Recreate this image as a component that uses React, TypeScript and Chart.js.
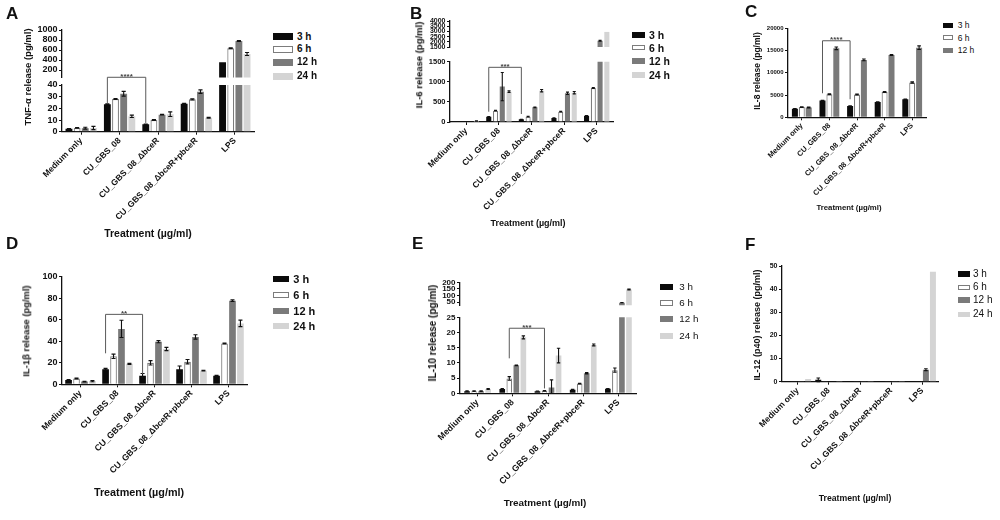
import React, { useEffect, useRef } from 'react';
import { Chart, registerables } from 'chart.js';

Chart.register(...registerables);

const FONT = '"Liberation Sans", Arial, Helvetica, sans-serif';
Chart.defaults.font.family = FONT;

// ---- data -------------------------------------------------------------

const categories = ['Medium only', 'CU_GBS_08', 'CU_GBS_08_ΔbceR', 'CU_GBS_08_ΔbceR+pbceR', 'LPS'];
const timePoints = ['3 h', '6 h', '12 h', '24 h'];

// A: TNF-α, rows = 3 h, 6 h, 12 h, 24 h
const tnfMeans = [
  [2.5, 23.5, 6.3, 24, 354],
  [3.2, 28, 10, 27.7, 634],
  [3, 32.5, 14.6, 34.3, 780],
  [3.2, 13.2, 15, 12, 520],
];
const tnfSem = [
  [0.2, 0.4, 0.2, 0.3, 0],
  [0.3, 0.3, 0.4, 0.5, 8],
  [0.8, 2, 0.2, 1.5, 10],
  [1.4, 1, 2, 0.4, 30],
];
const tnfTicksHigh = [200, 400, 600, 800, 1000];
const tnfTicksLow = [0, 10, 20, 30, 40];

// B: IL-6
const il6Means = [
  [15, 133, 66, 100, 158],
  [12, 282, 133, 257, 846],
  [10, 880, 365, 713, 2100],
  [22, 755, 780, 730, 2950],
];
const il6Sem = [
  [0, 5, 3, 4, 5],
  [0, 10, 8, 10, 10],
  [0, 350, 10, 30, 40],
  [5, 20, 30, 30, 0],
];
const il6TicksHigh = [1500, 2000, 2500, 3000, 3500, 4000];
const il6TicksLow = [0, 500, 1000, 1500];

// C: IL-8 (no 24 h)
const il8Means = [
  [1900, 3750, 2550, 3450, 4050],
  [2300, 5170, 5100, 5700, 7800],
  [2200, 15500, 12900, 14000, 15650],
];
const il8Sem = [
  [50, 50, 50, 50, 50],
  [80, 100, 100, 100, 150],
  [100, 300, 200, 100, 400],
];
const il8Ticks = [0, 5000, 10000, 15000, 20000];

// D: IL-1β
const il1bMeans = [
  [4, 14, 8, 14, 8],
  [5.3, 26, 20, 21, 38],
  [2.5, 51.5, 39.6, 44, 77.7],
  [3, 19, 32.8, 12.7, 56.6],
];
const il1bSem = [
  [0.3, 0.8, 2, 3, 0.3],
  [0.4, 2, 2, 2, 0.4],
  [0.4, 8, 1, 2, 0.8],
  [0.6, 0.5, 1.5, 0.4, 3],
];
const il1bTicks = [0, 20, 40, 60, 80, 100];

// E: IL-10
const il10Means = [
  [0.7, 1.4, 0.7, 1.2, 1.5],
  [0.7, 4.9, 0.8, 3.2, 7.6],
  [0.7, 9.2, 1.9, 6.6, 45],
  [1.4, 18.4, 12.4, 15.9, 145],
];
const il10Sem = [
  [0.1, 0.15, 0.05, 0.1, 0.1],
  [0.1, 0.6, 0.1, 0.1, 0.7],
  [0.1, 0.1, 2.5, 0.2, 1],
  [0.15, 0.5, 2.4, 0.3, 3],
];
const il10TicksHigh = [50, 100, 150, 200];
const il10TicksLow = [0, 5, 10, 15, 20, 25];

// F: IL-12 (p40)
const il12Means = [
  [0.05, 0.8, 0.1, 0.1, 0.3],
  [0.1, 0.3, 0.1, 0.1, 0.2],
  [0.05, 0.2, 0.1, 0.1, 5.2],
  [1.2, 0.05, 0.05, 0.05, 47.5],
];
const il12Sem = [
  [0, 0.8, 0, 0, 0],
  [0, 0, 0, 0, 0],
  [0, 0, 0, 0, 0.4],
  [0, 0, 0, 0, 0],
];
const il12Ticks = [0, 10, 20, 30, 40, 50];

// ---- styles -----------------------------------------------------------

const fills = ['#0b0b0b', '#ffffff', '#7a7a7a', '#d4d4d4'];
const borders = ['#0b0b0b', '#7c7c7c', '#7a7a7a', '#d4d4d4'];
const Y_W = 34;
const X_H = 100;
const LEFT_ROOM = 66;

type Plot = { l: number; t: number; r: number; b: number };
type Bracket = { series: number; from: number; to: number; top: number; leftEnd: number; rightEnd: number; text: string };

const errorBars = {
  id: 'errorBars',
  afterDatasetsDraw(chart: any) {
    const { ctx } = chart;
    const y = chart.scales.y;
    ctx.save();
    ctx.strokeStyle = '#111';
    ctx.lineWidth = 1.1;
    chart.data.datasets.forEach((ds: any, i: number) => {
      const meta = chart.getDatasetMeta(i);
      meta.data.forEach((bar: any, j: number) => {
        const v = ds.data[j];
        const e = ds.errors ? ds.errors[j] : 0;
        if (!e || v > y.max || v < y.min) return;
        const top = y.getPixelForValue(Math.min(v + e, y.max));
        const bottom = y.getPixelForValue(Math.max(v - e, y.min));
        const cap = Math.max(bar.width * 0.3, 1.5);
        ctx.beginPath();
        ctx.moveTo(bar.x, top);
        ctx.lineTo(bar.x, bottom);
        ctx.moveTo(bar.x - cap, top);
        ctx.lineTo(bar.x + cap, top);
        ctx.moveTo(bar.x - cap, bottom);
        ctx.lineTo(bar.x + cap, bottom);
        ctx.stroke();
      });
    });
    ctx.restore();
  },
};

const bracketPlugin = {
  id: 'bracket',
  afterDatasetsDraw(chart: any, _args: any, opts: any) {
    if (!opts || !opts.text) return;
    const { ctx } = chart;
    const y = chart.scales.y;
    const a = chart.getDatasetMeta(opts.series).data[opts.from];
    const b = chart.getDatasetMeta(opts.series).data[opts.to];
    const yt = y.getPixelForValue(opts.top);
    ctx.save();
    ctx.strokeStyle = '#5a5a5a';
    ctx.lineWidth = 1;
    ctx.beginPath();
    ctx.moveTo(a.x, y.getPixelForValue(opts.leftEnd));
    ctx.lineTo(a.x, yt);
    ctx.lineTo(b.x, yt);
    ctx.lineTo(b.x, y.getPixelForValue(opts.rightEnd));
    ctx.stroke();
    ctx.fillStyle = '#444';
    ctx.font = `bold 8px ${FONT}`;
    ctx.textAlign = 'center';
    ctx.textBaseline = 'alphabetic';
    ctx.fillText(opts.text, (a.x + b.x) / 2, yt + 1.5);
    ctx.restore();
  },
};

type SegProps = {
  plot: Plot;
  means: number[][];
  sem: number[][];
  min: number;
  max: number;
  ticks: number[];
  showX?: boolean;
  tickSize: number;
  catSize?: number;
  catPct: number;
  barPct: number;
  bracket?: Bracket;
};

function Segment(p: SegProps) {
  const ref = useRef<HTMLCanvasElement>(null);
  const { plot, showX } = p;
  const boxL = Math.floor(plot.l) - LEFT_ROOM;
  const boxT = Math.floor(plot.t) - 22;
  const boxR = Math.ceil(plot.r) + 8;
  const boxB = Math.ceil(plot.b) + (showX ? X_H + 4 : 10);
  const W = boxR - boxL;
  const H = boxB - boxT;

  useEffect(() => {
    if (!ref.current) return;
    const padding = {
      left: plot.l - boxL - Y_W,
      top: plot.t - boxT,
      right: boxR - plot.r,
      bottom: boxB - plot.b - (showX ? X_H : 0),
    };
    const chart = new Chart(ref.current, {
      type: 'bar',
      data: {
        labels: categories,
        datasets: p.means.map((row, i) => ({
          label: timePoints[i],
          data: row,
          errors: p.sem[i],
          backgroundColor: fills[i],
          borderColor: borders[i],
          borderWidth: i === 1 ? 1.2 : 0,
          categoryPercentage: p.catPct,
          barPercentage: p.barPct,
          clip: 0,
        })) as any,
      },
      options: {
        responsive: false,
        maintainAspectRatio: false,
        animation: false,
        events: [],
        layout: { padding },
        plugins: {
          legend: { display: false },
          tooltip: { enabled: false },
          bracket: (p.bracket || {}) as any,
        } as any,
        scales: {
          x: {
            display: !!showX,
            afterFit: showX ? (s: any) => { s.height = X_H; } : undefined,
            ticks: {
              autoSkip: false,
              minRotation: 45,
              maxRotation: 45,
              padding: 1,
              color: '#111',
              font: { family: FONT, size: p.catSize || 9, weight: 'bold' },
            },
            grid: { offset: false, drawOnChartArea: false, tickLength: 3, color: '#111', lineWidth: 1 },
            border: { display: true, color: '#111', width: 1.3 },
          },
          y: {
            min: p.min,
            max: p.max,
            afterBuildTicks: (s: any) => { s.ticks = p.ticks.map((v) => ({ value: v })); },
            afterFit: (s: any) => { s.width = Y_W; },
            ticks: {
              autoSkip: false,
              padding: 1.5,
              color: '#111',
              font: { family: FONT, size: p.tickSize, weight: 'bold' },
              callback: (v: any) => String(v),
            },
            grid: { drawOnChartArea: false, tickLength: 3, color: '#111', lineWidth: 1 },
            border: { display: true, color: '#111', width: 1.3 },
          },
        },
      } as any,
      plugins: [errorBars, bracketPlugin],
    });
    return () => chart.destroy();
  }, []);

  return (
    <canvas
      ref={ref}
      width={W}
      height={H}
      style={{ position: 'absolute', left: boxL, top: boxT, width: W, height: H }}
    />
  );
}

type LegendProps = { x: number; textX: number; rows: number[]; boxW: number; boxH: number; size: number; bold?: boolean };

function Legend({ x, textX, rows, boxW, boxH, size, bold }: LegendProps) {
  return (
    <>
      {rows.map((cy, i) => (
        <React.Fragment key={i}>
          <div
            style={{
              position: 'absolute',
              left: x,
              top: cy - boxH / 2,
              width: boxW,
              height: boxH,
              boxSizing: 'border-box',
              background: fills[i],
              border: i === 1 ? `1.4px solid ${borders[1]}` : 'none',
            }}
          />
          <div
            style={{
              position: 'absolute',
              left: textX,
              top: cy,
              transform: 'translateY(-50%)',
              fontSize: size,
              lineHeight: 1,
              fontWeight: bold ? 'bold' : 'normal',
              whiteSpace: 'nowrap',
            }}
          >
            {timePoints[i]}
          </div>
        </React.Fragment>
      ))}
    </>
  );
}

const Letter = ({ x, y, ch }: { x: number; y: number; ch: string }) => (
  <div style={{ position: 'absolute', left: x, top: y - 2.5, fontSize: 17, lineHeight: '17px', fontWeight: 'bold' }}>{ch}</div>
);

const YTitle = ({ cx, cy, size, text }: { cx: number; cy: number; size: number; text: string }) => (
  <div
    style={{
      position: 'absolute',
      left: cx,
      top: cy,
      transform: 'translate(-50%, -50%) rotate(-90deg)',
      fontSize: size,
      lineHeight: 1,
      fontWeight: 'bold',
      whiteSpace: 'nowrap',
    }}
  >
    {text}
  </div>
);

const XTitle = ({ cx, cy, size }: { cx: number; cy: number; size: number }) => (
  <div
    style={{
      position: 'absolute',
      left: cx,
      top: cy,
      transform: 'translate(-50%, -50%)',
      fontSize: size,
      lineHeight: 1,
      fontWeight: 'bold',
      whiteSpace: 'nowrap',
    }}
  >
    Treatment (µg/ml)
  </div>
);

export default function App() {
  return (
    <div
      style={{
        position: 'absolute',
        left: 0,
        top: 0,
        width: 1000,
        height: 520,
        overflow: 'hidden',
        background: '#fff',
        fontFamily: FONT,
        color: '#111',
      }}
    >
      {/* A */}
      <Segment plot={{ l: 62, t: 30, r: 254, b: 77.5 }} means={tnfMeans} sem={tnfSem} min={50} max={1000}
        ticks={tnfTicksHigh} tickSize={9} catPct={0.85} barPct={0.84} />
      <Segment plot={{ l: 62, t: 85, r: 254, b: 131.7 }} means={tnfMeans} sem={tnfSem} min={0} max={40}
        ticks={tnfTicksLow} showX tickSize={9} catSize={8.5} catPct={0.85} barPct={0.84}
        bracket={{ series: 0, from: 1, to: 2, top: 46.6, leftEnd: 24.6, rightEnd: 7.5, text: '****' }} />
      <Letter x={6} y={7} ch="A" />
      <YTitle cx={27.5} cy={77} size={9.5} text="TNF-α release (pg/ml)" />
      <XTitle cx={148} cy={233} size={10.5} />
      <Legend x={273} textX={297} rows={[36.7, 49.3, 62.3, 76.3]} boxW={20} boxH={7} size={10} bold />

      {/* B */}
      <Segment plot={{ l: 450, t: 21, r: 613, b: 47 }} means={il6Means} sem={il6Sem} min={1500} max={4000}
        ticks={il6TicksHigh} tickSize={7} catPct={0.83} barPct={0.75} />
      <Segment plot={{ l: 450, t: 61.7, r: 613, b: 122 }} means={il6Means} sem={il6Sem} min={0} max={1500}
        ticks={il6TicksLow} showX tickSize={7.5} catSize={8.5} catPct={0.83} barPct={0.75}
        bracket={{ series: 0, from: 1, to: 2, top: 1360, leftEnd: 256, rightEnd: 199, text: '***' }} />
      <Letter x={410} y={7} ch="B" />
      <YTitle cx={418.5} cy={65} size={9.5} text="IL-6 release (pg/ml)" />
      <XTitle cx={528} cy={222.7} size={9} />
      <Legend x={631.7} textX={649} rows={[35, 47.7, 61, 75]} boxW={13.3} boxH={5.5} size={10.5} bold />

      {/* C */}
      <Segment plot={{ l: 788, t: 28.3, r: 926, b: 117.3 }} means={il8Means} sem={il8Sem} min={0} max={20000}
        ticks={il8Ticks} showX tickSize={6} catSize={7.5} catPct={0.75} barPct={0.87}
        bracket={{ series: 0, from: 1, to: 2, top: 17200, leftEnd: 5400, rightEnd: 4050, text: '****' }} />
      <Letter x={745} y={5} ch="C" />
      <YTitle cx={757} cy={71} size={8.5} text="IL-8 release (pg/ml)" />
      <XTitle cx={849} cy={208.3} size={7.8} />
      <Legend x={943.3} textX={957.7} rows={[25, 37.7, 50]} boxW={9.4} boxH={5} size={8.5} />

      {/* D */}
      <Segment plot={{ l: 62, t: 276.7, r: 247, b: 384.3 }} means={il1bMeans} sem={il1bSem} min={0} max={100}
        ticks={il1bTicks} showX tickSize={9} catSize={8.6} catPct={0.86} barPct={0.84}
        bracket={{ series: 0, from: 1, to: 2, top: 65, leftEnd: 28.8, rightEnd: 9.6, text: '**' }} />
      <Letter x={6} y={237} ch="D" />
      <YTitle cx={26} cy={331} size={9.4} text="IL-1β release (pg/ml)" />
      <XTitle cx={139} cy={492} size={10.8} />
      <Legend x={272.7} textX={293.3} rows={[279, 295, 311, 326]} boxW={16.7} boxH={6.7} size={11} bold />

      {/* E */}
      <Segment plot={{ l: 460, t: 282.3, r: 636, b: 305.3 }} means={il10Means} sem={il10Sem} min={25} max={200}
        ticks={il10TicksHigh} tickSize={8} catPct={0.8} barPct={0.8} />
      <Segment plot={{ l: 460, t: 317.3, r: 636, b: 393.3 }} means={il10Means} sem={il10Sem} min={0} max={25}
        ticks={il10TicksLow} showX tickSize={8} catSize={8.8} catPct={0.8} barPct={0.8}
        bracket={{ series: 1, from: 1, to: 2, top: 21.4, leftEnd: 11.5, rightEnd: 1.6, text: '***' }} />
      <Letter x={412} y={237} ch="E" />
      <YTitle cx={433} cy={333} size={10} text="IL-10 release (pg/ml)" />
      <XTitle cx={545} cy={503} size={9.9} />
      <Legend x={660} textX={679.3} rows={[287.3, 303.3, 319, 335.7]} boxW={12.7} boxH={6.3} size={9.8} />

      {/* F */}
      <Segment plot={{ l: 782, t: 266, r: 938, b: 381.7 }} means={il12Means} sem={il12Sem} min={0} max={50}
        ticks={il12Ticks} showX tickSize={7} catSize={8.5} catPct={0.9} barPct={0.85} />
      <Letter x={745} y={238} ch="F" />
      <YTitle cx={757} cy={325} size={9} text="IL-12 (p40) release (pg/ml)" />
      <XTitle cx={855} cy={498} size={8.7} />
      <Legend x={958.3} textX={973} rows={[274, 287.3, 300, 314.3]} boxW={11.7} boxH={5.5} size={10} />
    </div>
  );
}
